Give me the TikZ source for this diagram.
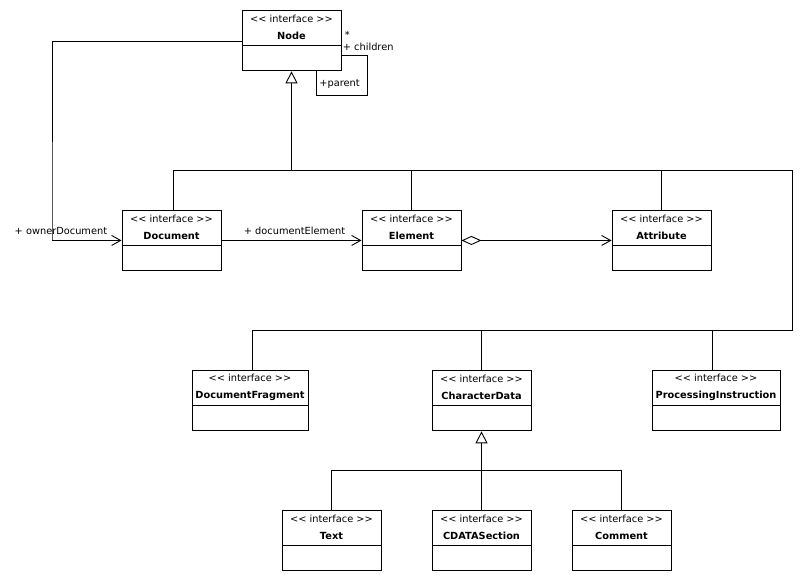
\documentclass[tikz,border=0pt]{standalone}
\usepackage{fontspec}
\newfontfamily\umlfont{DejaVu Sans}
\usepackage{tikz}
\usetikzlibrary{
    arrows.meta,
    positioning,
    calc
}
\tikzset{
    ihead/.style={draw, minimum width=99pt, minimum height=35pt, inner sep=0pt, align=center, font=\umlfont\fontsize{9.8}{17}\selectfont},
    ibody/.style={draw, minimum width=99pt, minimum height=25pt, anchor=north},
    lbl/.style={inner sep=0pt, font=\umlfont\fontsize{9.8}{11}\selectfont},
    gen/.style={-{Triangle[open,length=12pt,width=12pt]}},
    assoc/.style={-{Straight Barb[length=9pt,width=10pt]}}
}
\newcommand{\stereo}{<{}< interface >{}>}

\begin{document}
\begin{tikzpicture}[x=1pt,y=-1pt, line width=0.9pt]
    \useasboundingbox (0,0) rectangle (802,574);
    % interfaces
    \node[ihead] (nd) at (291.5,27.5) {\stereo\\\textbf{Node}};
    \node[ibody] (nd-b) at (nd.south) {};
    \node[ihead] (doc) at (171.5,227.5) {\stereo\\\textbf{Document}};
    \node[ibody] (doc-b) at (doc.south) {};
    \node[ihead] (elem) at (411.5,227.5) {\stereo\\\textbf{Element}};
    \node[ibody] (elem-b) at (elem.south) {};
    \node[ihead] (attr) at (661.5,227.5) {\stereo\\\textbf{Attribute}};
    \node[ibody] (attr-b) at (attr.south) {};
    \node[ihead, minimum width=116pt] (frag) at (250,387.5) {\stereo\\\textbf{DocumentFragment}};
    \node[ibody, minimum width=116pt] (frag-b) at (frag.south) {};
    \node[ihead] (cd) at (481.5,387.5) {\stereo\\\textbf{CharacterData}};
    \node[ibody] (cd-b) at (cd.south) {};
    \node[ihead, minimum width=128pt] (proc) at (716,387.5) {\stereo\\\textbf{ProcessingInstruction}};
    \node[ibody, minimum width=128pt] (proc-b) at (proc.south) {};
    \node[ihead] (txt) at (331.5,527.5) {\stereo\\\textbf{Text}};
    \node[ibody] (txt-b) at (txt.south) {};
    \node[ihead] (cds) at (481.5,527.5) {\stereo\\\textbf{CDATASection}};
    \node[ibody] (cds-b) at (cds.south) {};
    \node[ihead] (comm) at (621.5,527.5) {\stereo\\\textbf{Comment}};
    \node[ibody] (comm-b) at (comm.south) {};

    % inheritance from Node
    \coordinate (busT) at (792,170);
    \coordinate (busB) at (792,330);
    \draw ([xshift=1.5pt]doc.north) |- (busT) -- (busB) -| ([xshift=2pt]frag.north);
    \draw (elem.north) -- (elem.north |- busT);
    \draw (attr.north) -- (attr.north |- busT);
    \draw (cd.north) -- (cd.north |- busB);
    \draw ([xshift=-4pt]proc.north) -- ([xshift=-4pt]proc.north |- busB);
    \draw[gen] (nd-b.south |- busT) -- (nd-b.south);

    % inheritance from CharacterData
    \coordinate (cbus) at (482,470);
    \draw (txt.north) |- (cbus) -| (comm.north);
    \draw[gen] (cds.north) -- (cd-b.south);

    % associations
    \coordinate (ownc) at (52,240);
    \draw[assoc] ([yshift=4pt]nd.south west) -| (ownc) |- ([yshift=5pt]doc.south west);
    \draw[assoc] ([yshift=5pt]doc.south east) -- ([yshift=5pt]elem.south west);
    \draw[{Diamond[open,length=20pt,width=9pt]}-{Straight Barb[length=9pt,width=10pt]}] ([yshift=5pt]elem.south east) -- ([yshift=5pt]attr.south west);
    \coordinate (selfc) at (367,95);
    \draw ([yshift=2.5pt]nd-b.east) -| (selfc) -| ([xshift=25pt]nd-b.south);

    % role names
    \node[lbl, anchor=base east] (lown) at ([xshift=-14pt,yshift=11pt]doc.south west) {+ ownerDocument};
    \node[lbl, anchor=base west] (ldel) at ([xshift=22pt,yshift=11pt]doc.south east) {+ documentElement};
    \node[lbl, anchor=base west] (lmult) at ([xshift=3pt,yshift=7pt]nd.south east) {*};
    \node[lbl, anchor=base west] (lchild) at ([xshift=1pt,yshift=-5pt]nd.south east) {+ children};
    \node[lbl, anchor=base west] (lpar) at ([xshift=27.5pt,yshift=-15pt]nd-b.south) {+parent};
\end{tikzpicture}
\end{document}
